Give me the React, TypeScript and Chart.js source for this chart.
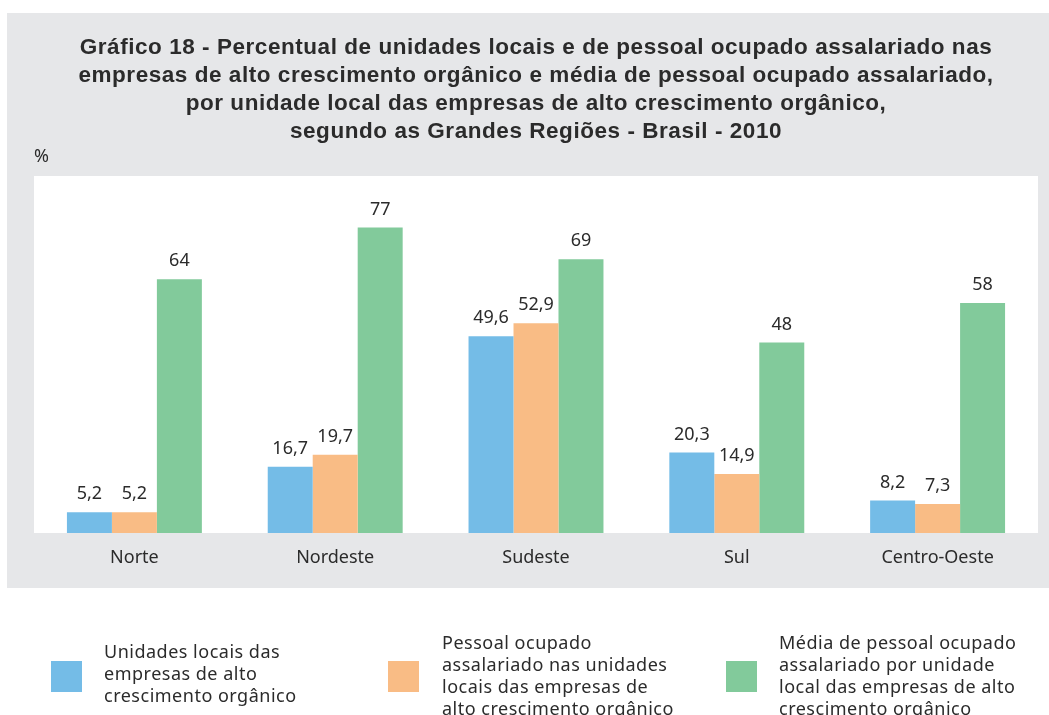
import React, { useEffect, useRef } from "react";
import { Chart, registerables } from "chart.js";

Chart.register(...registerables);

const categories = ["Norte", "Nordeste", "Sudeste", "Sul", "Centro-Oeste"];
const unidadesLocais = [5.2, 16.7, 49.6, 20.3, 8.2];
const pessoalOcupado = [5.2, 19.7, 52.9, 14.9, 7.3];
const mediaPessoal = [64, 77, 69, 48, 58];

const seriesLabels = [
  ["Unidades locais das", "empresas de alto", "crescimento orgânico"],
  ["Pessoal ocupado", "assalariado nas unidades", "locais das empresas de", "alto crescimento orgânico"],
  ["Média de pessoal ocupado", "assalariado por unidade", "local das empresas de alto", "crescimento orgânico"],
];
const seriesColors = ["#74BCE7", "#F9BC85", "#82CA9B"];

const titleLines = [
  "Gráfico 18 - Percentual de unidades locais e de pessoal ocupado assalariado nas",
  "empresas de alto crescimento orgânico e média de pessoal ocupado assalariado,",
  "por unidade local das empresas de alto crescimento orgânico,",
  "segundo as Grandes Regiões - Brasil - 2010",
];

const TEXT = "#2b2b2b";
const FONT = "'Noto Sans', sans-serif";

function fmt(v: number): string {
  return Number.isInteger(v) ? String(v) : v.toFixed(1).replace(".", ",");
}

const plotBg = {
  id: "plotBg",
  beforeDraw(chart: any) {
    const { ctx, chartArea } = chart;
    ctx.save();
    ctx.fillStyle = "#ffffff";
    ctx.fillRect(chartArea.left, chartArea.top, chartArea.right - chartArea.left, chartArea.bottom - chartArea.top);
    ctx.restore();
  },
};

const valueLabels = {
  id: "valueLabels",
  afterDatasetsDraw(chart: any) {
    const { ctx } = chart;
    ctx.save();
    ctx.font = `18px ${FONT}`;
    ctx.fillStyle = TEXT;
    ctx.textAlign = "center";
    ctx.textBaseline = "middle";
    chart.data.datasets.forEach((ds: any, i: number) => {
      const meta = chart.getDatasetMeta(i);
      meta.data.forEach((el: any, j: number) => {
        ctx.fillText(fmt(ds.data[j]), el.x, el.y - 18);
      });
    });
    ctx.restore();
  },
};

export default function App() {
  const ref = useRef<HTMLCanvasElement | null>(null);

  useEffect(() => {
    if (!ref.current) return;
    const chart = new Chart(ref.current, {
      type: "bar",
      data: {
        labels: categories,
        datasets: [
          { label: seriesLabels[0].join(" "), data: unidadesLocais, backgroundColor: seriesColors[0] },
          { label: seriesLabels[1].join(" "), data: pessoalOcupado, backgroundColor: seriesColors[1] },
          { label: seriesLabels[2].join(" "), data: mediaPessoal, backgroundColor: seriesColors[2] },
        ],
      },
      options: {
        responsive: false,
        animation: false,
        devicePixelRatio: 1,
        layout: { padding: { left: 34, right: 11, top: 176, bottom: 142 } },
        datasets: { bar: { categoryPercentage: 0.672, barPercentage: 1, borderWidth: 0 } },
        plugins: { legend: { display: false }, tooltip: { enabled: false }, title: { display: false } },
        scales: {
          x: {
            grid: { display: false, drawTicks: false },
            border: { display: false },
            ticks: { color: TEXT, font: { family: FONT, size: 18 }, padding: 14 },
            afterFit(scale: any) {
              scale.height = 40;
            },
          },
          y: { display: false, min: 0, max: 90 },
        },
      },
      plugins: [plotBg, valueLabels],
    });
    return () => chart.destroy();
  }, []);

  const legendPos = [
    { sq: 51, tx: 104, top: 640 },
    { sq: 388, tx: 442, top: 631 },
    { sq: 726, tx: 779, top: 631 },
  ];

  return (
    <div style={{ position: "absolute", left: 0, top: 0, width: 1049, height: 715, overflow: "hidden", background: "#fff" }}>
      <div style={{ position: "absolute", left: 7, top: 13, width: 1042, height: 575, background: "#E6E7E9" }} />
      <canvas ref={ref} width={1049} height={715} style={{ position: "absolute", left: 0, top: 0, display: "block" }} />
      <div
        style={{
          position: "absolute",
          left: 34,
          top: 33,
          width: 1004,
          textAlign: "center",
          fontFamily: "'Liberation Sans', Arial, sans-serif",
          fontWeight: "bold",
          fontSize: 22.5,
          letterSpacing: "0.55px",
          lineHeight: "28px",
          color: TEXT,
          whiteSpace: "nowrap",
        }}
      >
        {titleLines.map((l, i) => (
          <div key={i}>{l}</div>
        ))}
      </div>
      <div style={{ position: "absolute", left: 34, top: 144, fontFamily: FONT, fontSize: 18, lineHeight: "22px", color: TEXT }}>%</div>
      {seriesLabels.map((lines, i) => (
        <React.Fragment key={i}>
          <div style={{ position: "absolute", left: legendPos[i].sq, top: 661, width: 31, height: 31, background: seriesColors[i] }} />
          <div
            style={{
              position: "absolute",
              left: legendPos[i].tx,
              top: legendPos[i].top,
              fontFamily: FONT,
              fontSize: 18,
              letterSpacing: "0.5px",
              lineHeight: "22px",
              color: TEXT,
              whiteSpace: "nowrap",
            }}
          >
            {lines.map((l, k) => (
              <div key={k}>{l}</div>
            ))}
          </div>
        </React.Fragment>
      ))}
    </div>
  );
}
